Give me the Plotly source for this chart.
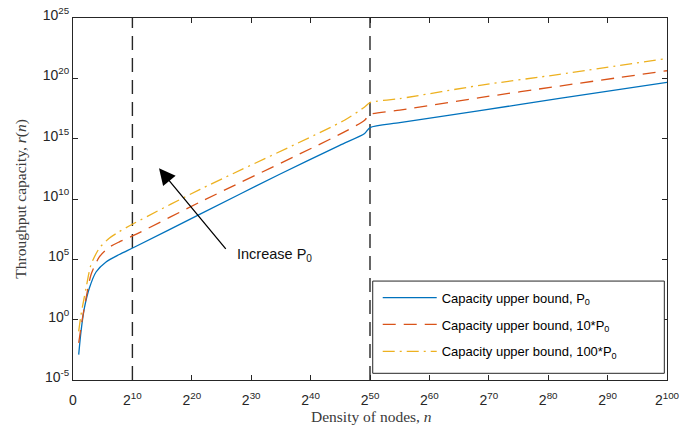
import plotly.graph_objects as go

# x values are log2(n); y values are log10(r(n))
blue_k = [0.96, 1.35, 1.92, 2.76, 3.88, 5.56, 7.8, 10.3, 21.4, 34.8, 44.9, 49.1, 50.0, 55.0, 68.5, 81.9, 100]
blue_v = [-2.9, -0.97, 0.97, 2.62, 3.95, 4.78, 5.4, 6.0, 8.75, 12.05, 14.45, 15.43, 15.92, 16.33, 17.33, 18.33, 19.67]

red_k = [0.96, 1.5, 2.2, 3.03, 4.44, 6.1, 7.8, 10.3, 21.4, 45.7, 49.1, 50.0, 55.0, 68.5, 81.9, 100]
red_v = [-1.93, -0.14, 1.79, 3.72, 5.2, 6.0, 6.45, 7.0, 9.75, 15.56, 16.53, 17.0, 17.36, 18.4, 19.36, 20.63]

yel_k = [0.96, 1.35, 2.2, 3.03, 4.44, 6.1, 7.8, 10.3, 21.4, 45.7, 49.1, 50.0, 55.0, 68.5, 81.9, 100]
yel_v = [-0.97, 0.41, 2.62, 4.55, 5.93, 6.75, 7.3, 7.99, 10.8, 16.53, 17.63, 17.99, 18.32, 19.42, 20.33, 21.65]

boundaries = [10, 50]

x_tickvals = [0, 10, 20, 30, 40, 50, 60, 70, 80, 90, 100]
x_ticktext = ["0"] + ["2<sup>%d</sup>" % v for v in x_tickvals[1:]]
y_exps = [-5, 0, 5, 10, 15, 20, 25]
y_tickvals = [10.0 ** e for e in y_exps]
y_ticktext = ["10<sup>%d</sup>" % e for e in y_exps]

names = ["Capacity upper bound, P<sub>0</sub>",
         "Capacity upper bound, 10*P<sub>0</sub>",
         "Capacity upper bound, 100*P<sub>0</sub>"]
colors = ["#0072BD", "#D95319", "#EDB120"]
dashes = ["solid", "13px,8px", "12px,5px,2px,5px"]

AX = "#262626"
fig = go.Figure()

for b in boundaries:
    fig.add_trace(go.Scatter(x=[b, b], y=[1e-5, 1e25], mode="lines",
                             line=dict(color=AX, width=1.4, dash="14px,8px"),
                             showlegend=False, hoverinfo="skip"))

for kk, vv, nm, c, d, g in zip([blue_k, red_k, yel_k], [blue_v, red_v, yel_v],
                               names, colors, dashes, ["a", "b", "c"]):
    fig.add_trace(go.Scatter(x=kk, y=[10.0 ** v for v in vv], mode="lines", name=nm,
                             legendgroup=g,
                             line=dict(color=c, width=1.3, dash=d, shape="spline",
                                       smoothing=0.7)))

fig.update_layout(
    width=696, height=427,
    margin=dict(l=73, r=29, t=18, b=47),
    paper_bgcolor="white", plot_bgcolor="white",
    font=dict(family="Liberation Sans, Arial, sans-serif", size=14, color=AX),
    showlegend=True,
    legend=dict(x=0.513, y=0.269, xanchor="left", yanchor="top",
                bgcolor="rgba(0,0,0,0)", borderwidth=0,
                font=dict(size=13, color="#000"), itemwidth=54,
                tracegroupgap=7),
    shapes=[dict(type="rect", xref="paper", yref="paper",
                 x0=0.5046, x1=0.9955, y0=0.0185, y1=0.2733,
                 line=dict(color=AX, width=1), fillcolor="white", layer="above")],
)

fig.update_xaxes(range=[0, 100], tickvals=x_tickvals, ticktext=x_ticktext,
                 showgrid=False, zeroline=False, showline=True, linecolor=AX,
                 linewidth=1, mirror="ticks", ticks="inside", ticklen=5,
                 tickcolor=AX, tickfont=dict(size=14, color=AX), automargin=False,
                 ticklabelstandoff=7)
fig.update_yaxes(type="log", range=[-5, 25], tickvals=y_tickvals, ticktext=y_ticktext,
                 showgrid=False, zeroline=False, showline=True, linecolor=AX,
                 linewidth=1, mirror="ticks", ticks="inside", ticklen=5,
                 tickcolor=AX, tickfont=dict(size=14, color=AX), automargin=False,
                 ticklabelshift=-3)

fig.add_annotation(x=14.48, y=12.54, xref="x", yref="y", ax=68, ay=82,
                   showarrow=True, arrowhead=2, arrowsize=2.5, arrowwidth=1.3,
                   arrowcolor="black", text="")
fig.add_annotation(x=27.3, y=5.37, xref="x", yref="y", text="Increase P<sub>0</sub>",
                   showarrow=False, xanchor="left", yanchor="middle",
                   font=dict(size=14.5, color="#111"))
fig.add_annotation(x=0.5025, y=-0.1005, xref="paper", yref="paper", yanchor="middle",
                   text="Density of nodes, <i>n</i>", showarrow=False,
                   font=dict(family="Liberation Serif, serif", size=15.5, color="#3a3a3a"))
fig.add_annotation(x=-0.088, y=0.5, xref="paper", yref="paper", textangle=-90,
                   xanchor="center", text="Throughput capacity, <i>r</i>(<i>n</i>)",
                   showarrow=False,
                   font=dict(family="Liberation Serif, serif", size=15.5, color="#3a3a3a"))

fig.write_html("out.html", config={"displayModeBar": False},
               post_script="document.body.style.margin='0';")
